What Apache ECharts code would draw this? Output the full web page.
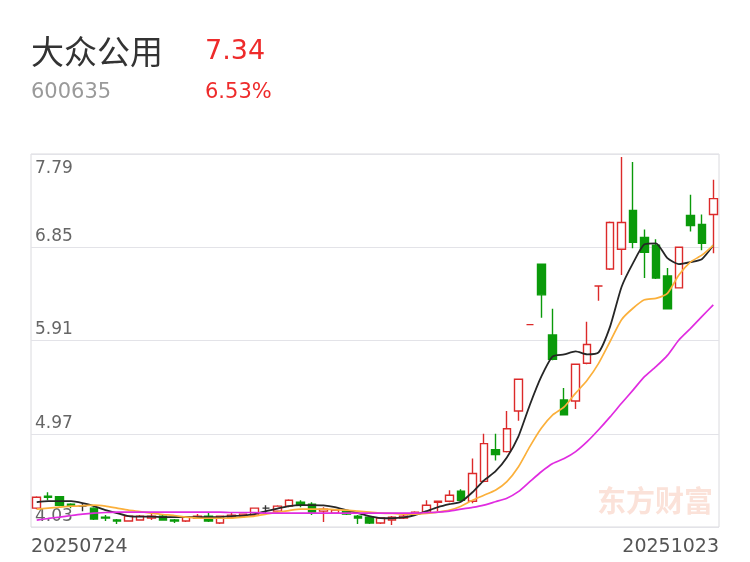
<!DOCTYPE html>
<html>
<head>
<meta charset="utf-8">
<title>大众公用</title>
<script src="https://cdn.jsdelivr.net/npm/echarts@6/dist/echarts.min.js"></script>
<style>
html, body { margin: 0; padding: 0; background: #fff; }
#chart { width: 750px; height: 562px; }
</style>
</head>
<body>
<div id="chart"></div>
<script>
// 标题信息
const stockName = '大众公用'
const stockCode = '600635'
const lastPrice = '7.34'
const changePct = '6.53%'

// y 轴刻度
const yMin = 4.03
const yMax = 7.79
const yStep = 0.94

// 交易日
const dates = [
  '20250724', '20250725', '20250728', '20250729', '20250730', '20250731',
  '20250801', '20250804', '20250805', '20250806', '20250807', '20250808',
  '20250811', '20250812', '20250813', '20250814', '20250815', '20250818',
  '20250819', '20250820', '20250821', '20250822', '20250825', '20250826',
  '20250827', '20250828', '20250829', '20250901', '20250902', '20250903',
  '20250904', '20250905', '20250908', '20250909', '20250910', '20250911',
  '20250912', '20250915', '20250916', '20250917', '20250918', '20250919',
  '20250922', '20250923', '20250924', '20250925', '20250926', '20250929',
  '20250930', '20251009', '20251010', '20251013', '20251014', '20251015',
  '20251016', '20251017', '20251020', '20251021', '20251022', '20251023'
]

// K线数据
const opens = [
  4.22, 4.34, 4.335, 4.26, 4.24, 4.22, 4.13, 4.10, 4.09, 4.10,
  4.12, 4.14, 4.10, 4.09, 4.12, 4.14, 4.07, 4.13, 4.14, 4.15,
  4.22, 4.19, 4.24, 4.28, 4.26, 4.19, 4.17, 4.19, 4.14, 4.13,
  4.07, 4.10, 4.12, 4.16, 4.18, 4.28, 4.29, 4.39, 4.29, 4.49,
  4.81, 4.79, 5.20, 6.07, 6.68, 5.965, 5.31, 5.30, 5.68, 6.46,
  6.63, 6.83, 7.22, 6.95, 6.87, 6.56, 6.44, 7.17, 7.08, 7.18
]
const closes = [
  4.33, 4.33, 4.25, 4.24, 4.24, 4.11, 4.12, 4.09, 4.14, 4.14,
  4.14, 4.10, 4.09, 4.13, 4.14, 4.09, 4.14, 4.15, 4.16, 4.22,
  4.22, 4.24, 4.30, 4.26, 4.18, 4.21, 4.20, 4.16, 4.12, 4.07,
  4.12, 4.13, 4.14, 4.18, 4.25, 4.29, 4.35, 4.30, 4.57, 4.87,
  4.76, 5.02, 5.52, 6.07, 6.37, 5.72, 5.16, 5.67, 5.87, 6.46,
  7.10, 7.10, 6.90, 6.80, 6.54, 6.23, 6.85, 7.07, 6.89, 7.34
]
const lows = [
  4.21, 4.30, 4.24, 4.22, 4.19, 4.10, 4.09, 4.06, 4.09, 4.10,
  4.10, 4.10, 4.07, 4.08, 4.12, 4.08, 4.06, 4.12, 4.13, 4.14,
  4.17, 4.18, 4.23, 4.23, 4.15, 4.08, 4.16, 4.15, 4.06, 4.06,
  4.06, 4.05, 4.11, 4.15, 4.17, 4.19, 4.28, 4.29, 4.27, 4.48,
  4.70, 4.78, 5.10, 6.07, 6.14, 5.71, 5.16, 5.22, 5.67, 6.31,
  6.62, 6.57, 6.84, 6.54, 6.53, 6.23, 6.44, 7.01, 6.82, 6.79
]
const highs = [
  4.34, 4.38, 4.34, 4.27, 4.27, 4.23, 4.15, 4.11, 4.14, 4.15,
  4.17, 4.15, 4.11, 4.13, 4.16, 4.18, 4.14, 4.17, 4.16, 4.22,
  4.25, 4.25, 4.31, 4.30, 4.28, 4.23, 4.21, 4.20, 4.15, 4.14,
  4.12, 4.14, 4.15, 4.19, 4.30, 4.29, 4.40, 4.41, 4.72, 4.97,
  4.97, 5.20, 5.52, 6.07, 6.68, 6.23, 5.43, 5.67, 6.10, 6.46,
  7.11, 7.76, 7.71, 7.03, 6.93, 6.64, 6.85, 7.38, 7.18, 7.53
]

// 均线
const ma5 = [
  4.28, 4.29, 4.29, 4.29, 4.27, 4.24, 4.20, 4.17, 4.14, 4.135,
  4.135, 4.13, 4.13, 4.13, 4.13, 4.13, 4.13, 4.14, 4.145, 4.16,
  4.19, 4.216, 4.24, 4.25, 4.25, 4.247, 4.23, 4.20, 4.17, 4.14,
  4.12, 4.118, 4.126, 4.15, 4.19, 4.23, 4.26, 4.285, 4.38, 4.50,
  4.59, 4.73, 4.94, 5.26, 5.545, 5.75, 5.77, 5.80, 5.77, 5.79,
  6.05, 6.45, 6.69, 6.88, 6.89, 6.74, 6.68, 6.70, 6.73, 6.87
]
const ma10 = [
  4.21, 4.22, 4.23, 4.24, 4.245, 4.25, 4.24, 4.22, 4.20, 4.186,
  4.17, 4.156, 4.146, 4.13, 4.12, 4.118, 4.118, 4.12, 4.13, 4.14,
  4.16, 4.18, 4.196, 4.21, 4.21, 4.21, 4.206, 4.20, 4.19, 4.18,
  4.17, 4.166, 4.16, 4.16, 4.166, 4.18, 4.20, 4.24, 4.30, 4.35,
  4.40, 4.487, 4.635, 4.84, 5.025, 5.16, 5.24, 5.38, 5.51, 5.68,
  5.90, 6.12, 6.235, 6.32, 6.335, 6.385, 6.57, 6.70, 6.77, 6.87
]
const ma20 = [
  4.10, 4.116, 4.13, 4.146, 4.16, 4.17, 4.176, 4.18, 4.18, 4.18,
  4.18, 4.18, 4.18, 4.18, 4.18, 4.18, 4.18, 4.176, 4.176, 4.176,
  4.17, 4.17, 4.17, 4.17, 4.17, 4.17, 4.17, 4.17, 4.17, 4.17,
  4.17, 4.17, 4.17, 4.17, 4.175, 4.18, 4.19, 4.21, 4.227, 4.25,
  4.285, 4.32, 4.386, 4.487, 4.587, 4.67, 4.72, 4.79, 4.89, 5.01,
  5.14, 5.277, 5.41, 5.545, 5.646, 5.76, 5.915, 6.03, 6.15, 6.27
]

const upColor = '#dc2a2a'
const downColor = '#0a9a0a'
const flatColor = '#333333'
const numFont = 'DejaVu Sans'

// 平盘且与前收相同时用黑色
const kData = opens.map((o, i) => {
  const item = { value: [o, closes[i], lows[i], highs[i]] }
  if (i > 0 && o === closes[i] && closes[i] === closes[i - 1]) {
    item.itemStyle = { color: flatColor, borderColor: flatColor, borderColor0: flatColor }
  }
  return item
})

const chart = echarts.init(document.getElementById('chart'))

chart.setOption({
  animation: false,
  backgroundColor: '#fff',
  grid: {
    left: 31,
    right: 31,
    top: 154,
    bottom: 35,
    show: true,
    borderColor: '#dadade',
    borderWidth: 1
  },
  graphic: [
    {
      type: 'text', left: 31, top: 35, z: 10,
      style: { text: stockName, fill: '#333', font: '33px "Noto Sans CJK SC"' }
    },
    {
      type: 'text', left: 205, top: 38, z: 10,
      style: { text: lastPrice, fill: '#ee2b2b', font: '27px "' + numFont + '"' }
    },
    {
      type: 'text', left: 31, top: 82, z: 10,
      style: { text: stockCode, fill: '#9a9a9a', font: '21px "' + numFont + '"' }
    },
    {
      type: 'text', left: 205, top: 82, z: 10,
      style: { text: changePct, fill: '#ee2b2b', font: '21px "' + numFont + '"' }
    },
    {
      type: 'text', left: 597, top: 486, z: 0,
      style: { text: '东方财富', fill: '#fbe2d9', font: 'bold 29px "Noto Sans CJK SC"' }
    }
  ],
  xAxis: [
    {
      type: 'category',
      data: dates,
      boundaryGap: true,
      axisLine: { show: false },
      axisTick: { show: false },
      axisLabel: { show: false },
      splitLine: { show: false }
    },
    {
      type: 'category',
      data: dates,
      boundaryGap: false,
      position: 'bottom',
      axisLine: { show: false },
      axisTick: { show: false },
      splitLine: { show: false },
      axisLabel: {
        interval: (i) => i === 0 || i === dates.length - 1,
        alignMinLabel: 'left',
        alignMaxLabel: 'right',
        color: '#555',
        fontSize: 19,
        fontFamily: numFont,
        margin: 11
      }
    }
  ],
  yAxis: [
    {
      type: 'value',
      min: yMin,
      max: yMax,
      interval: yStep,
      axisLine: { show: false },
      axisTick: { show: false },
      splitLine: { lineStyle: { color: '#e3e3e8', width: 1 } },
      axisLabel: {
        inside: true,
        verticalAlign: 'bottom',
        margin: 4,
        padding: [0, 0, 2, 0],
        color: '#666',
        fontSize: 17,
        fontFamily: numFont,
        showMaxLabel: false,
        formatter: (v) => v.toFixed(2)
      }
    },
    {
      type: 'value',
      min: yMin,
      max: yMax,
      interval: yStep,
      position: 'left',
      axisLine: { show: false },
      axisTick: { show: false },
      splitLine: { show: false },
      axisLabel: {
        inside: true,
        verticalAlign: 'top',
        margin: 4,
        padding: [6, 0, 0, 0],
        color: '#666',
        fontSize: 17,
        fontFamily: numFont,
        showMaxLabel: true,
        formatter: (v) => Math.abs(v - yMax) < 1e-6 ? v.toFixed(2) : ''
      }
    }
  ],
  series: [
    {
      type: 'candlestick',
      data: kData,
      barWidth: 8,
      itemStyle: {
        color: 'transparent',
        color0: downColor,
        borderColor: upColor,
        borderColor0: downColor,
        borderWidth: 1.4
      }
    },
    {
      name: 'MA5', type: 'line', data: ma5, showSymbol: false, smooth: 0.2,
      lineStyle: { color: '#262626', width: 1.8 }
    },
    {
      name: 'MA10', type: 'line', data: ma10, showSymbol: false, smooth: 0.2,
      lineStyle: { color: '#fbb03b', width: 1.7 }
    },
    {
      name: 'MA20', type: 'line', data: ma20, showSymbol: false, smooth: 0.2,
      lineStyle: { color: '#e02ce0', width: 1.7 }
    }
  ]
})
</script>
</body>
</html>
